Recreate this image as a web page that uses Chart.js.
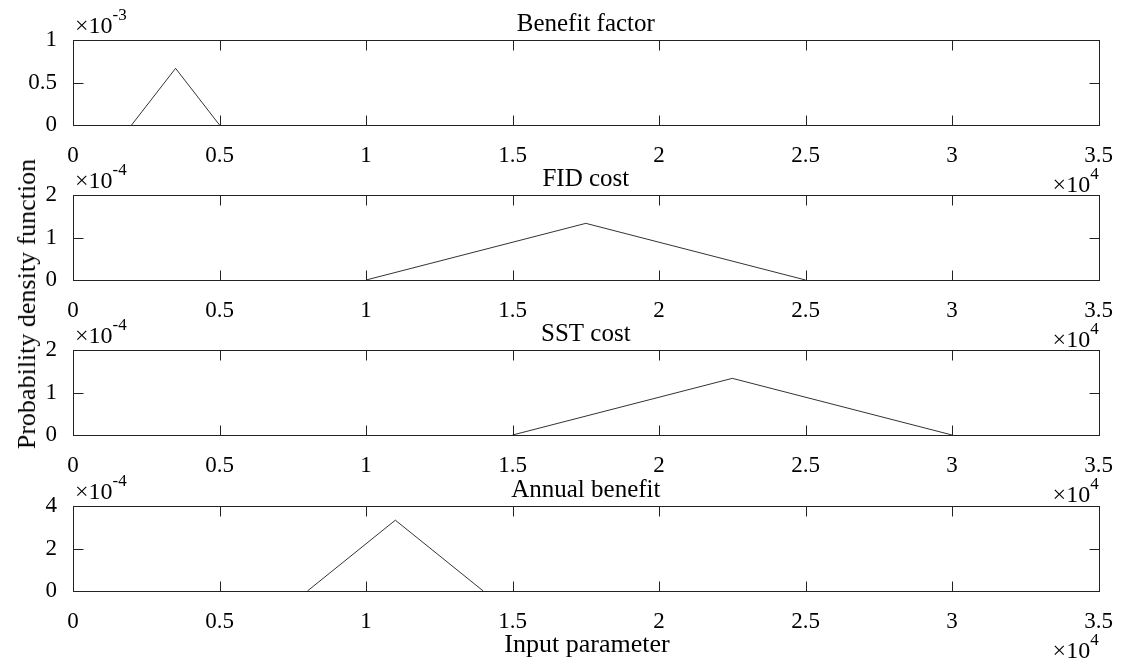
<!DOCTYPE html>
<html lang="en">
<head>
  <meta charset="UTF-8">
  <title>Probability density functions of input parameters</title>
  <script src="https://cdn.jsdelivr.net/npm/chart.js"></script>
  <style>
    body {
      margin: 0;
      background: #ffffff;
      font-family: 'Liberation Serif', 'Times New Roman', serif;
    }
    #wrap {
      position: relative;
      width: 1122px;
      height: 663px;
      overflow: hidden;
    }
    canvas {
      position: absolute;
      left: 0;
    }
    .axis-label {
      position: absolute;
      font-size: 26px;
      color: #000;
      white-space: nowrap;
    }
    #ylabel {
      left: 27px;
      top: 304px;
      transform: translate(-50%, -50%) rotate(-90deg);
    }
    #xlabel {
      left: 587px;
      top: 629px;
      transform: translateX(-50%);
    }
  </style>
</head>
<body>
<div id="wrap">
  <canvas id="c0" width="1122" height="240"></canvas>
  <canvas id="c1" width="1122" height="240"></canvas>
  <canvas id="c2" width="1122" height="240"></canvas>
  <canvas id="c3" width="1122" height="240"></canvas>
  <div class="axis-label" id="ylabel">Probability density function</div>
  <div class="axis-label" id="xlabel">Input parameter</div>
</div>

<script>
  // triangular pdfs, x in raw units
  const titles = ['Benefit factor', 'FID cost', 'SST cost', 'Annual benefit'];

  const benefitX = [2000, 3500, 5000];
  const benefitY = [0, 6.667e-4, 0];

  const fidX = [10000, 17500, 25000];
  const fidY = [0, 1.333e-4, 0];

  const sstX = [15000, 22500, 30000];
  const sstY = [0, 1.333e-4, 0];

  const annualX = [8000, 11000, 14000];
  const annualY = [0, 3.333e-4, 0];

  const xTicks = [0, 0.5, 1, 1.5, 2, 2.5, 3, 3.5];   // ×10^4
  const yMax = [1e-3, 2e-4, 2e-4, 4e-4];
  const yStep = [0.5e-3, 1e-4, 1e-4, 2e-4];
  const yExp = [-3, -4, -4, -4];

  const seriesX = [benefitX, fidX, sstX, annualX];
  const seriesY = [benefitY, fidY, sstY, annualY];

  const plotTops = [40, 195, 350, 506];
  const plotH = 85;
  const padTop = 45;
  const canvasH = 240;
  const xAxisH = 40;
  const FONT = "'Liberation Serif', 'Times New Roman', serif";

  // box, inward ticks, title and exponent labels
  const framePlugin = {
    id: 'frame',
    afterDraw(chart, args, opts) {
      const ctx = chart.ctx;
      const ca = chart.chartArea;
      const xs = chart.scales.x, ys = chart.scales.y;
      const L = Math.round(ca.left) + 0.5, R = Math.round(ca.right) + 0.5;
      const T = Math.round(ca.top) + 0.5, B = Math.round(ca.bottom) + 0.5;
      ctx.save();
      ctx.strokeStyle = '#222';
      ctx.lineWidth = 1;
      ctx.strokeRect(L, T, R - L, B - T);
      ctx.beginPath();
      xs.ticks.forEach(t => {
        const px = Math.round(xs.getPixelForValue(t.value)) + 0.5;
        ctx.moveTo(px, B); ctx.lineTo(px, B - 10);
        ctx.moveTo(px, T); ctx.lineTo(px, T + 10);
      });
      ys.ticks.forEach(t => {
        const py = Math.round(ys.getPixelForValue(t.value)) + 0.5;
        ctx.moveTo(L, py); ctx.lineTo(L + 10, py);
        ctx.moveTo(R, py); ctx.lineTo(R - 10, py);
      });
      ctx.stroke();

      ctx.fillStyle = '#000';
      // title
      ctx.font = '25px ' + FONT;
      ctx.textAlign = 'center';
      ctx.textBaseline = 'alphabetic';
      ctx.fillText(opts.title, (ca.left + ca.right) / 2, ca.top - 9);

      // y multiplier, top left
      ctx.textAlign = 'left';
      ctx.font = '24px ' + FONT;
      const base = '\u00d710';
      ctx.fillText(base, ca.left + 2, ca.top - 7);
      const w = ctx.measureText(base).width;
      ctx.font = '17px ' + FONT;
      ctx.fillText(String(opts.yExp), ca.left + 2 + w, ca.top - 20);

      // x multiplier, under the axis at right
      ctx.font = '17px ' + FONT;
      const supW = ctx.measureText('4').width;
      ctx.textAlign = 'right';
      ctx.fillText('4', ca.right, ca.bottom + 54);
      ctx.font = '24px ' + FONT;
      ctx.fillText(base, ca.right - supW, ca.bottom + 67);
      ctx.restore();
    }
  };

  function fmt(v) {
    return String(Math.round(v * 100) / 100);
  }

  seriesX.forEach((xs, i) => {
    const canvas = document.getElementById('c' + i);
    canvas.style.top = (plotTops[i] - padTop) + 'px';
    const expScale = Math.pow(10, yExp[i]);
    new Chart(canvas.getContext('2d'), {
      type: 'line',
      data: {
        datasets: [{
          data: xs.map((x, k) => ({ x: x, y: seriesY[i][k] })),
          borderColor: '#333',
          borderWidth: 1,
          pointRadius: 0,
          fill: false,
          tension: 0
        }]
      },
      options: {
        responsive: false,
        animation: false,
        devicePixelRatio: 1,
        layout: {
          padding: { top: padTop, left: 0, right: 19, bottom: canvasH - padTop - plotH - xAxisH }
        },
        plugins: {
          legend: { display: false },
          tooltip: { enabled: false },
          frame: { title: titles[i], yExp: yExp[i] }
        },
        scales: {
          x: {
            type: 'linear',
            min: 0,
            max: 35000,
            afterFit: s => { s.height = xAxisH; },
            afterBuildTicks: s => { s.ticks = xTicks.map(v => ({ value: v * 1e4 })); },
            grid: { display: false },
            border: { display: false },
            ticks: {
              autoSkip: false,
              maxRotation: 0,
              padding: 9,
              color: '#000',
              font: { family: FONT, size: 23 },
              callback: v => fmt(v / 1e4)
            }
          },
          y: {
            min: 0,
            max: yMax[i],
            afterFit: s => { s.width = 73; },
            grid: { display: false },
            border: { display: false },
            ticks: {
              stepSize: yStep[i],
              padding: 8,
              color: '#000',
              font: { family: FONT, size: 23 },
              callback: v => fmt(v / expScale)
            }
          }
        }
      },
      plugins: [framePlugin]
    });
  });
</script>
</body>
</html>
